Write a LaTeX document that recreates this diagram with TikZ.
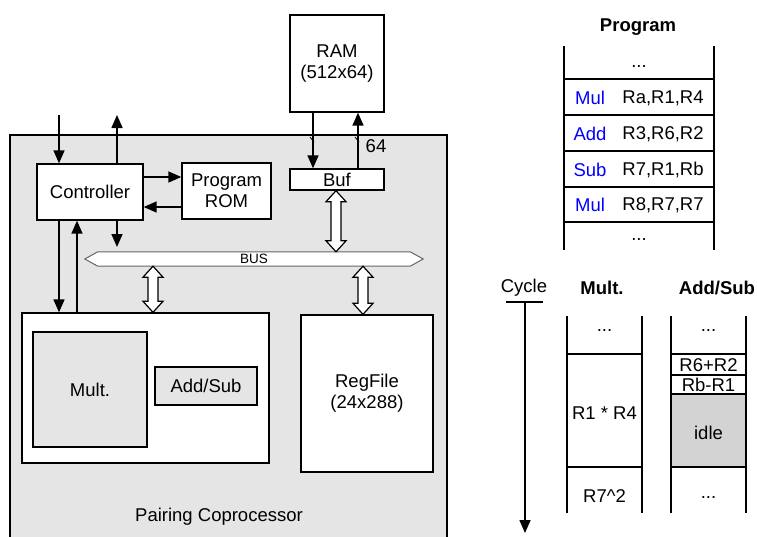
\documentclass[tikz,border=0pt]{standalone}
\usepackage{fontspec}
\setmainfont{Liberation Sans}
\usetikzlibrary{arrows.meta,calc}
\definecolor{boxgray}{RGB}{229,229,229}
\definecolor{idlegray}{RGB}{211,211,211}
\tikzset{
  box/.style={draw, line width=1.4pt, inner sep=0pt, align=center},
  sig/.style={line width=1.6pt, -{Triangle[length=13pt,width=11pt]}},
  tline/.style={line width=1.4pt},
  hollow/.style={draw, fill=white, line width=1.2pt, line join=miter},
  lbl/.style={inner sep=0pt, align=center},
  hdr/.style={inner sep=0pt, font=\fontsize{18.5}{21}\selectfont\bfseries}
}
\newcommand\hdarrow[2]{%
  \path[hollow] let \p1=#1, \p2=#2 in
    (\x1,\y1) -- (\x1+10pt,\y1-11pt) -- (\x1+5pt,\y1-11pt) -- (\x1+5pt,\y2+11pt)
    -- (\x1+10pt,\y2+11pt) -- (\x1,\y2) -- (\x1-10pt,\y2+11pt) -- (\x1-5pt,\y2+11pt)
    -- (\x1-5pt,\y1-11pt) -- (\x1-10pt,\y1-11pt) -- cycle;}
\begin{document}
\begin{tikzpicture}[x=1pt,y=-1pt,font=\fontsize{18.5}{21}\selectfont]
\useasboundingbox (0,0) rectangle (757,536);
% outer coprocessor box
\draw[line width=1.4pt, fill=boxgray] (10,560) -- (10,135) -- (447,135) -- (447,560);
\node[lbl] (pc) at (219,517) {Pairing Coprocessor};
% blocks
\node[box, fill=white, minimum width=106, minimum height=56] (ctrl) at (90,192) {Controller};
\node[box, fill=white, minimum width=89, minimum height=56] (rom) at (226.5,191) {Program\\ROM};
\node[box, fill=white, minimum width=94, minimum height=97] (ram) at (337,63.5) {RAM\\(512x64)};
\node[box, fill=white, minimum width=94, minimum height=21] (buf) at (337,179.5) {Buf};
\node[box, fill=white, minimum width=247, minimum height=150] (mb) at (145.5,388) {};
\node[box, fill=boxgray, minimum width=114, minimum height=115] (mult) at (90,389.5) {Mult.};
\node[box, fill=boxgray, minimum width=102, minimum height=38] (as) at (206,386) {Add/Sub};
\node[box, fill=white, minimum width=132, minimum height=157] (rf) at (367,393.5) {RegFile\\(24x288)};
% bus
\node[inner sep=0pt, minimum width=338, minimum height=14] (bus) at (254,259) {};
\path[draw=black!60, fill=white, line width=1pt]
  (bus.west) -- ($(bus.north west)+(13,0)$) -- ($(bus.north east)+(-13,0)$) -- (bus.east)
  -- ($(bus.south east)+(-13,0)$) -- ($(bus.south west)+(13,0)$) -- cycle;
\node[lbl, font=\fontsize{13.5}{15}\selectfont] (buslbl) at (bus.center) {BUS};
% controller signals
\coordinate (cin) at (59,115);
\coordinate (cout) at (117,115);
\coordinate (cdown) at (117,247);
\coordinate (c2r) at (143,177);
\coordinate (r2c) at (182,207);
\draw[sig] (cin) -- (cin |- ctrl.north);
\draw[sig] (cout |- ctrl.north) -- (cout);
\draw[sig] (cout |- ctrl.south) -- (cdown);
\draw[sig] (c2r -| ctrl.east) -- (c2r -| rom.west);
\draw[sig] (r2c -| rom.west) -- (r2c -| ctrl.east);
\coordinate (m1) at (59,220);
\coordinate (m2) at (77,220);
\draw[sig] (m1 |- ctrl.south) -- (m1 |- mb.north);
\draw[sig] (m2 |- mb.north) -- (m2 |- ctrl.south);
% RAM <-> Buf
\coordinate (rb1) at (313,0);
\coordinate (rb2) at (358,0);
\draw[sig] (rb1 |- ram.south) -- (rb1 |- buf.north);
\draw[sig] (rb2 |- buf.north) -- (rb2 |- ram.south);
\draw[line width=0.8pt] (310,137) -- (314,142);
\draw[line width=0.8pt] (355,137) -- (359,142);
\node[lbl] (w64) at (376,146) {64};
% hollow double arrows
\coordinate (h1) at (336,0);
\coordinate (h2) at (153,0);
\coordinate (h3) at (363,0);
\hdarrow{(h1 |- buf.south)}{(h1 |- bus.north)}
\hdarrow{(h2 |- bus.south)}{(h2 |- mb.north)}
\hdarrow{(h3 |- bus.south)}{(h3 |- rf.north)}
% Program table
\node[hdr] (ptitle) at (638,27) {Program};
\draw[tline] (564,46) -- (564,250) (714,46) -- (714,250);
\foreach \y in {79,115,151,187,222} \draw[tline] (564,\y) -- (714,\y);
\node[lbl] (p0) at (639,67) {...};
\node[lbl, text=blue] (o1) at (590,98) {Mul};
\node[lbl] (a1) at (663,98) {Ra,R1,R4};
\node[lbl, text=blue] (o2) at (590,134) {Add};
\node[lbl] (a2) at (663,134) {R3,R6,R2};
\node[lbl, text=blue] (o3) at (590,170) {Sub};
\node[lbl] (a3) at (663,170) {R7,R1,Rb};
\node[lbl, text=blue] (o4) at (590,205) {Mul};
\node[lbl] (a4) at (663,205) {R8,R7,R7};
\node[lbl] (p5) at (639,240) {...};
% Cycle
\node[lbl] (cyc) at (524,288) {Cycle};
\coordinate (cl) at (506,302);
\coordinate (cr) at (543,302);
\coordinate (ctop) at (525,302);
\coordinate (cbot) at (525,533);
\draw[tline] (cl) -- (cr);
\draw[sig] (ctop) -- (cbot);
% Mult column
\node[hdr] (mh) at (602,288) {Mult.};
\draw[tline] (567,316) -- (567,513) (642,316) -- (642,513);
\foreach \y in {354,467} \draw[tline] (567,\y) -- (642,\y);
\node[lbl] (mc0) at (604.5,331) {...};
\node[lbl] (mc1) at (604.5,413) {R1 * R4};
\node[lbl] (mc2) at (604.5,496) {R7\^{}2};
% Add/Sub column
\node[hdr] (ah) at (717,288) {Add/Sub};
\fill[idlegray] (671,394) rectangle (746,467);
\draw[tline] (671,316) -- (671,513) (746,316) -- (746,513);
\foreach \y in {354,375,394,467} \draw[tline] (671,\y) -- (746,\y);
\node[lbl] (ac0) at (708.5,331) {...};
\node[lbl] (ac1) at (708.5,365) {R6+R2};
\node[lbl] (ac2) at (708.5,385) {Rb-R1};
\node[lbl] (ac3) at (708.5,433) {idle};
\node[lbl] (ac4) at (708.5,498) {...};
\end{tikzpicture}
\end{document}
